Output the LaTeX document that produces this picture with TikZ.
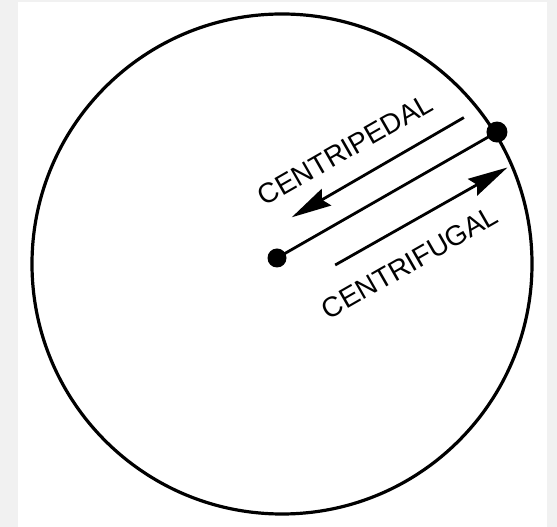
\documentclass[tikz,border=0pt]{standalone}
\usepackage{fontspec}
\newfontfamily\labelfont{Liberation Sans}
\usetikzlibrary{arrows.meta, calc}
\definecolor{scanbg}{HTML}{F1F1F1}

\begin{document}
\begin{tikzpicture}[
    x=1pt, y=1pt,
    % rim of the turning disc
    rim/.style={
        draw=black,
        line width=3.2pt
    },
    % the two black dots
    massdot/.style={
        circle,
        fill=black,
        inner sep=0pt,
        minimum size=#1
    },
    % radius from hub to mass
    tether/.style={
        draw=black,
        line width=2.8pt
    },
    % force arrows
    forcearrow/.style={
        -{Stealth[length=40pt, width=19pt, inset=5pt]},
        line width=2.8pt
    },
    % slanted labels
    labeltext/.style={
        font=\labelfont\fontsize{28}{30}\selectfont,
        inner sep=0pt,
        rotate=29.8
    }
]

    % --- 1. page and disc ---
    \fill[scanbg] (0,0) rectangle (557,527);
    \fill[white] (18,0) rectangle (547,525);
    \useasboundingbox (0,0) rectangle (557,527);

    \draw[rim] (282,263) circle[radius=250];

    % --- 2. dots, arrow ends and labels (along the radius) ---
    \begin{scope}[shift={(277,269)}, rotate=29.8]
        \node[massdot=19pt] (hub) at (0,0) {};
        \node[massdot=21pt] (mass) at (253.5,0) {};

        \coordinate (pedal-start) at (232,29);
        \coordinate (pedal-tip) at (33,28);
        \coordinate (fugal-start) at (47,-35);
        \coordinate (fugal-tip) at (245,-36);

        \node[labeltext] (pedal) at (113,60) {CENTRIPEDAL};
        \node[labeltext] (fugal) at (113,-70) {CENTRIFUGAL};
    \end{scope}

    % --- 3. connectors ---
    \draw[tether] (hub.center) -- (mass.center);
    \draw[forcearrow] (pedal-start) -- (pedal-tip);
    \draw[forcearrow] (fugal-start) -- (fugal-tip);

\end{tikzpicture}
\end{document}
